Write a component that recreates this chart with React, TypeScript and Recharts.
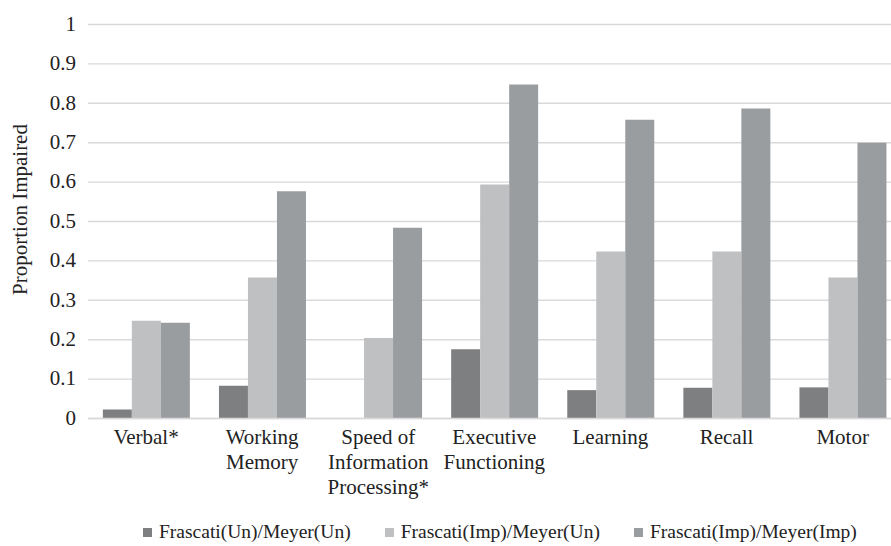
import React from "react";
import { BarChart, Bar, XAxis, YAxis, CartesianGrid, Legend } from "recharts";

const categories = [
  "Verbal*",
  "Working\nMemory",
  "Speed of\nInformation\nProcessing*",
  "Executive\nFunctioning",
  "Learning",
  "Recall",
  "Motor",
];
const unUn = [0.023, 0.083, 0, 0.176, 0.072, 0.078, 0.079];
const impUn = [0.248, 0.358, 0.204, 0.594, 0.424, 0.424, 0.358];
const impImp = [0.243, 0.577, 0.484, 0.848, 0.758, 0.787, 0.7];
const seriesNames = [
  "Frascati(Un)/Meyer(Un)",
  "Frascati(Imp)/Meyer(Un)",
  "Frascati(Imp)/Meyer(Imp)",
];
const seriesColors = ["#7e7f81", "#bfc0c2", "#9a9da0"];
const yTicks = [0, 0.1, 0.2, 0.3, 0.4, 0.5, 0.6, 0.7, 0.8, 0.9, 1];
const yTickLabels = ["0", "0.1", "0.2", "0.3", "0.4", "0.5", "0.6", "0.7", "0.8", "0.9", "1"];
const yLabel = "Proportion Impaired";

const data = categories.map((c, i) => ({
  name: c,
  a: unUn[i],
  b: impUn[i],
  c: impImp[i],
}));

const FONT = "Liberation Serif, DejaVu Serif, Times New Roman, serif";
const TEXT = "#222222";
const textStyle = { fontFamily: FONT } as React.CSSProperties;

const XTick = (props: any) => {
  const { x, y, payload } = props;
  const lines = String(payload.value).split("\n");
  return (
    <text x={x} y={y} textAnchor="middle" style={textStyle} fontSize={21} fill={TEXT}>
      {lines.map((l, i) => (
        <tspan key={i} x={x} y={y + 25.5 + i * 25}>
          {l}
        </tspan>
      ))}
    </text>
  );
};

const YTick = (props: any) => {
  const { x, y, payload } = props;
  const idx = yTicks.indexOf(payload.value);
  return (
    <text x={x} y={y} dy="0.3em" textAnchor="end" style={textStyle} fontSize={21} fill={TEXT}>
      {idx >= 0 ? yTickLabels[idx] : String(payload.value)}
    </text>
  );
};

const YLabel = (props: any) => {
  const vb = props.viewBox || { x: 0, y: 0, width: 0, height: 0 };
  const cx = vb.x - 8;
  const cy = vb.y + vb.height / 2 - 12;
  return (
    <text
      x={cx}
      y={cy}
      transform={`rotate(-90, ${cx}, ${cy})`}
      textAnchor="middle"
      dominantBaseline="central"
      style={textStyle}
      fontSize={21}
      fill={TEXT}
    >
      {yLabel}
    </text>
  );
};

const LegendContent = () => (
  <div
    style={{
      display: "flex",
      alignItems: "center",
      paddingLeft: 143,
      fontFamily: FONT,
      fontSize: 19.5,
      color: TEXT,
      whiteSpace: "nowrap",
      height: 24,
    }}
  >
    {seriesNames.map((n, i) => (
      <div key={n} style={{ display: "flex", alignItems: "center", marginRight: 34 }}>
        <span
          style={{
            display: "inline-block",
            width: 9,
            height: 9,
            background: seriesColors[i],
            marginRight: 7,
          }}
        />
        <span>{n}</span>
      </div>
    ))}
  </div>
);

export default function App() {
  return (
    <div
      style={{
        position: "absolute",
        left: 0,
        top: 0,
        width: 891,
        height: 546,
        overflow: "hidden",
        background: "#ffffff",
        fontFamily: FONT,
      }}
    >
      <BarChart
        width={910}
        height={546}
        data={data}
        margin={{ top: 24.5, right: 9.3, bottom: 2, left: 28 }}
        barCategoryGap="12.8%"
        barGap={0}
        style={textStyle}
      >
        <CartesianGrid vertical={false} stroke="#d9d9d9" strokeWidth={1.4} />
        <XAxis
          dataKey="name"
          interval={0}
          height={101.5}
          tickLine={false}
          tickSize={0}
          tickMargin={0}
          axisLine={{ stroke: "#d9d9d9", strokeWidth: 1.6 }}
          tick={<XTick />}
        />
        <YAxis
          width={60}
          domain={[0, 1]}
          ticks={yTicks}
          interval={0}
          axisLine={false}
          tickLine={false}
          tickSize={6}
          tickMargin={6}
          tick={<YTick />}
          label={<YLabel />}
        />
        <Legend
          verticalAlign="bottom"
          align="left"
          height={24}
          wrapperStyle={{ left: 0, width: 891 }}
          content={<LegendContent />}
        />
        <Bar dataKey="a" name={seriesNames[0]} fill={seriesColors[0]} isAnimationActive={false} />
        <Bar dataKey="b" name={seriesNames[1]} fill={seriesColors[1]} isAnimationActive={false} />
        <Bar dataKey="c" name={seriesNames[2]} fill={seriesColors[2]} isAnimationActive={false} />
      </BarChart>
    </div>
  );
}
